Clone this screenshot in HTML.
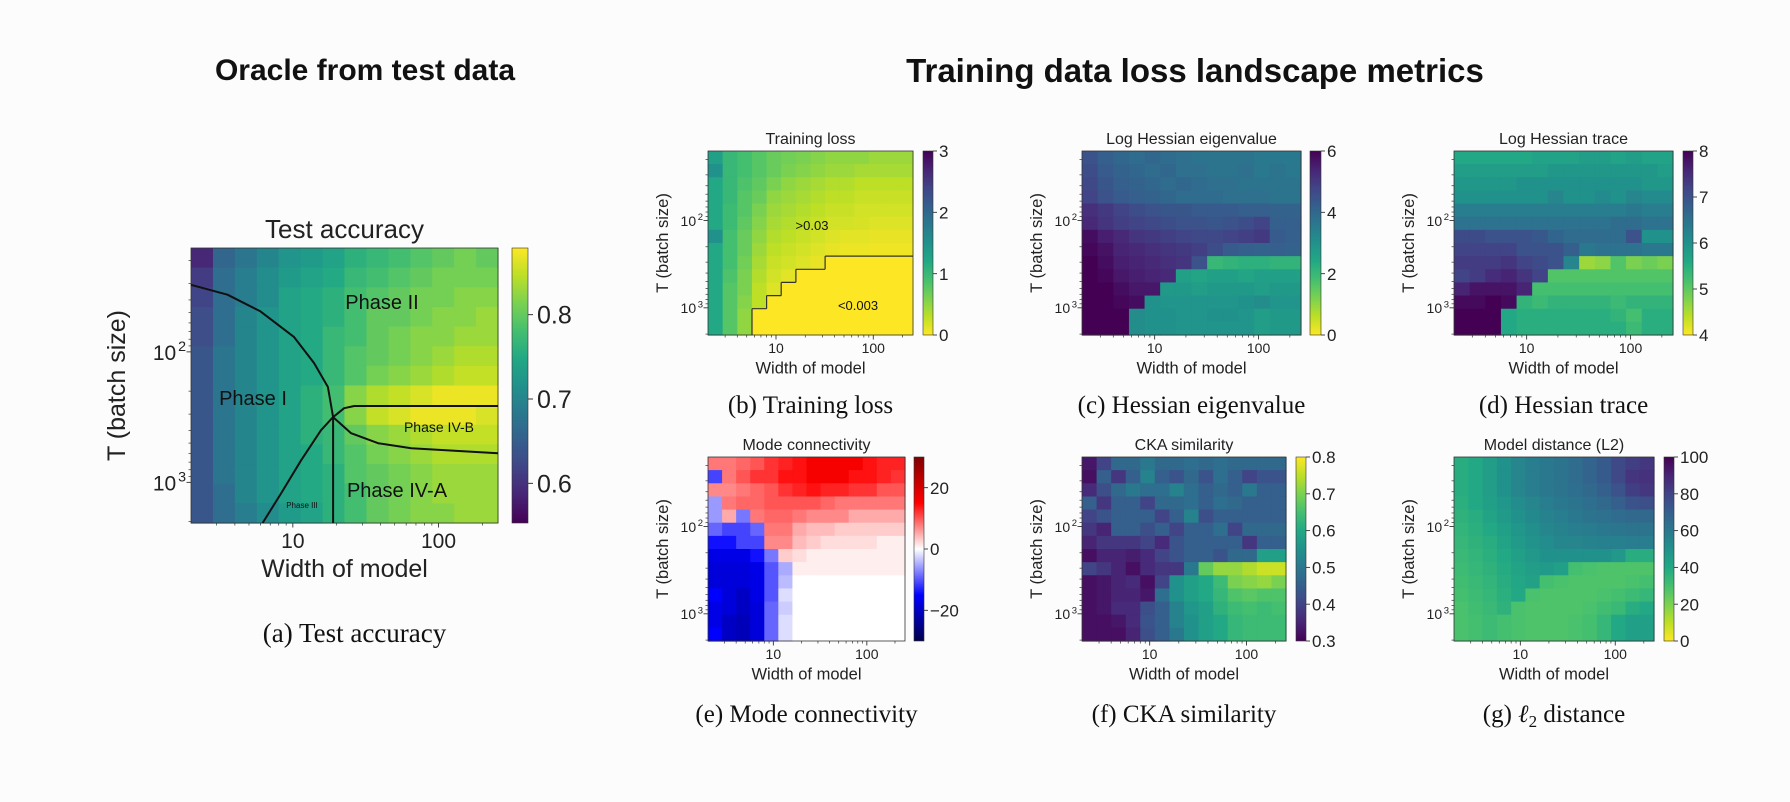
<!DOCTYPE html>
<html><head><meta charset="utf-8"><title>Phase diagram metrics</title>
<style>
html,body{margin:0;padding:0;background:#fcfcfc;}
svg{display:block;font-family:"Liberation Sans",sans-serif;}
.serif{font-family:"Liberation Serif",serif;}
</style></head>
<body>
<svg id="fig" width="1790" height="802" viewBox="0 0 1790 802" xmlns="http://www.w3.org/2000/svg">
<rect x="0" y="0" width="1790" height="802" fill="#fcfcfc"/>
<text x="365" y="80" text-anchor="middle" font-size="30" font-weight="bold" fill="#111">Oracle from test data</text>
<text x="1195" y="82" text-anchor="middle" font-size="33" font-weight="bold" fill="#111">Training data loss landscape metrics</text>
</svg>
<script>
// ---------- shared categories ----------
const widthCats = [2,2.83,4,5.66,8,11.3,16,22.6,32,45.3,64,90.5,128,181];
const batchCats = [16,22.6,32,45.3,64,90.5,128,181,256,362,512,724,1024,1448];
const xTickVals = [10,100];
const xTickLabels = ["10","100"];
const yTickVals = [100,1000];
const yTickExps = ["2","3"];

// ---------- (a) test accuracy (x100) ----------
const accData = [
[59,66,68,70,72,73,74,76,77,78,79,80,81,80],
[61,67,69,71,73,74,75,77,78,79,80,81,81,81],
[62,67,69,71,74,75,76,78,79,80,81,81,82,82],
[63,67,70,72,74,75,76,78,80,80,81,82,82,83],
[63,67,70,72,74,75,77,78,80,81,82,82,83,83],
[64,68,70,72,74,75,77,79,80,81,82,83,84,84],
[64,68,70,72,74,75,77,79,81,82,83,84,85,85],
[64,68,70,72,74,76,78,82,84,85,86,87,87,87],
[64,68,70,72,74,76,78,82,85,86,87,87,87,86],
[64,68,70,72,74,76,77,80,82,83,84,85,85,85],
[64,68,70,72,74,75,77,79,81,82,83,84,84,84],
[64,68,70,72,74,75,76,79,80,81,82,83,83,83],
[64,67,70,72,74,75,76,78,80,81,82,83,83,83],
[64,67,69,71,73,74,76,78,80,81,82,82,83,83]];
const accTicks = [0.6,0.7,0.8];
const phaseCurve1W = [2.0,3.56,6.0,10.2,14.0,17.4,18.9];
const phaseCurve1T = [30.6,36.5,49,77,122,186,316];
const phaseVertW = [18.9,18.9];
const phaseVertT = [316,2048];
const phaseCurve3W = [6.2,8.3,11.4,15.6,18.9,22.5,26.4,256];
const phaseCurve3T = [2048,1216,677,398,316,270,260,260];
const phaseCurve4W = [18.9,25.1,38.5,65,256];
const phaseCurve4T = [316,420,501,547,598];

// ---------- (b) training loss ----------
const lossData = [
[1.3,1.0,0.9,0.8,0.7,0.65,0.6,0.55,0.5,0.5,0.5,0.45,0.45,0.45],
[1.5,1.0,0.9,0.8,0.7,0.6,0.55,0.5,0.45,0.45,0.4,0.4,0.4,0.4],
[1.2,1.0,0.85,0.75,0.6,0.5,0.45,0.4,0.35,0.35,0.3,0.3,0.3,0.3],
[1.2,1.0,0.8,0.7,0.5,0.45,0.4,0.35,0.3,0.3,0.25,0.25,0.25,0.25],
[1.2,0.95,0.8,0.6,0.45,0.4,0.35,0.3,0.25,0.25,0.2,0.2,0.2,0.2],
[1.2,0.95,0.75,0.55,0.4,0.35,0.3,0.25,0.2,0.2,0.18,0.15,0.15,0.15],
[1.5,0.9,0.7,0.5,0.35,0.3,0.25,0.2,0.15,0.12,0.12,0.1,0.1,0.1],
[1.2,0.9,0.7,0.45,0.3,0.25,0.2,0.15,0.1,0.08,0.08,0.06,0.06,0.06],
[1.2,0.9,0.65,0.4,0.25,0.2,0.15,0.1,0.001,0.001,0.001,0.001,0.001,0.001],
[1.2,0.85,0.6,0.35,0.2,0.12,0.001,0.001,0.001,0.001,0.001,0.001,0.001,0.001],
[1.2,0.8,0.6,0.3,0.15,0.001,0.001,0.001,0.001,0.001,0.001,0.001,0.001,0.001],
[1.2,0.8,0.55,0.3,0.001,0.001,0.001,0.001,0.001,0.001,0.001,0.001,0.001,0.001],
[1.2,0.8,0.5,0.001,0.001,0.001,0.001,0.001,0.001,0.001,0.001,0.001,0.001,0.001],
[1.2,0.8,0.5,0.001,0.001,0.001,0.001,0.001,0.001,0.001,0.001,0.001,0.001,0.001]];
const lossTicks = [0,1,2,3];
const lossThreshold = 0.003;

// ---------- (c) log Hessian eigenvalue ----------
const eigData = [
[4.5,4.2,4.0,3.9,4.0,3.9,3.8,3.7,3.7,3.7,3.7,3.6,3.6,3.6],
[4.6,4.3,4.1,4.0,3.9,4.0,3.8,3.8,3.7,3.7,3.8,3.6,3.7,3.6],
[4.7,4.4,4.2,4.1,4.0,3.9,4.0,3.9,3.8,3.8,3.7,3.7,3.7,3.7],
[4.8,4.5,4.3,4.2,4.1,4.0,3.9,3.9,3.9,3.8,3.8,3.8,3.7,3.7],
[5.2,5.0,4.8,4.6,4.5,4.4,4.4,4.3,4.3,4.3,4.2,4.2,4.1,4.1],
[5.3,5.1,4.9,4.8,4.7,4.6,4.5,4.5,4.4,4.5,4.6,4.8,4.2,4.2],
[5.8,5.5,5.3,5.1,5.0,4.9,4.8,4.7,4.7,4.8,4.9,5.0,4.3,4.2],
[5.9,5.7,5.4,5.3,5.2,5.1,5.0,4.9,4.6,4.3,4.2,4.1,4.2,4.1],
[6.0,5.8,5.5,5.4,5.3,5.2,5.1,4.5,2.0,2.1,2.2,2.2,2.1,2.1],
[6.0,5.9,5.6,5.5,5.4,5.3,2.6,2.5,2.6,2.6,2.5,2.6,2.6,2.6],
[6.0,6.0,5.8,5.6,5.6,2.8,2.8,2.7,2.8,2.8,2.8,2.7,2.8,2.8],
[6.0,6.0,5.9,5.8,3.0,2.9,2.9,2.9,2.9,2.9,3.0,3.1,2.9,2.9],
[6.0,6.0,6.0,3.1,3.0,3.0,2.9,2.9,3.0,3.0,2.9,2.7,2.8,2.8],
[6.0,6.0,6.0,3.1,3.0,3.0,2.9,2.9,2.9,2.9,2.9,2.7,2.8,2.8]];
const eigTicks = [0,2,4,6];

// ---------- (d) log Hessian trace ----------
const traceData = [
[5.6,5.6,5.6,5.6,5.6,5.7,5.7,5.7,5.8,5.8,5.7,5.8,5.7,5.7],
[5.8,5.8,5.8,5.8,5.8,5.8,5.9,5.9,5.9,5.9,5.9,5.9,5.9,5.8],
[5.9,5.9,5.9,5.9,6.0,6.0,6.0,6.0,6.0,6.0,6.0,6.0,5.9,5.9],
[6.0,6.0,6.0,6.0,6.0,6.0,6.2,6.0,6.0,6.1,6.0,6.2,6.1,6.1],
[6.3,6.3,6.3,6.3,6.3,6.3,6.3,6.3,6.3,6.3,6.3,6.4,6.3,6.3],
[6.5,6.5,6.5,6.5,6.5,6.5,6.5,6.5,6.5,6.5,6.6,6.6,6.5,6.5],
[7.1,7.1,7.0,7.0,7.0,6.9,6.7,6.6,6.6,6.6,6.6,7.0,6.0,6.0],
[7.2,7.2,7.2,7.2,7.0,7.0,7.0,6.8,6.4,6.5,6.5,6.5,6.4,6.4],
[7.3,7.3,7.3,7.4,7.2,7.1,7.0,6.2,4.6,4.7,5.1,4.8,4.9,4.8],
[7.2,7.3,7.5,7.6,7.4,7.2,5.1,5.1,5.1,5.1,5.1,5.1,5.1,5.1],
[7.6,7.8,7.8,7.8,7.6,5.2,5.2,5.2,5.2,5.2,5.2,5.2,5.2,5.2],
[7.9,7.9,8.0,7.9,5.4,5.3,5.4,5.4,5.4,5.4,5.3,5.4,5.4,5.4],
[8.0,8.0,8.0,5.6,5.5,5.5,5.5,5.5,5.5,5.5,5.4,5.2,5.5,5.5],
[8.0,8.0,8.0,5.6,5.5,5.5,5.5,5.5,5.5,5.5,5.5,5.3,5.5,5.5]];
const traceTicks = [4,5,6,7,8];

// ---------- (e) mode connectivity ----------
const modeData = [
[8,8,9,10,12,13,14,16,16,16,16,14,13,13],
[-11,8,10,12,12,14,14,16,16,16,14,14,13,12],
[7,7,8,9,10,12,13,14,13,13,12,12,10,10],
[-6,8,9,9,10,10,10,10,9,8,8,8,8,8],
[-6,5,-8,8,9,9,8,7,7,7,5,5,5,5],
[-9,-11,-11,-9,8,8,5,4,4,3,3,3,3,3],
[-14,-14,-11,-11,7,7,4,3,2,2,2,2,1,1],
[-17,-17,-17,-14,-8,3,2,1,1,1,1,1,1,1],
[-18,-18,-18,-17,-10,-5,1,1,1,1,1,1,1,1],
[-18,-18,-18,-17,-10,-4,0,0,0,0,0,0,0,0],
[-15,-18,-20,-17,-10,-2,0,0,0,0,0,0,0,0],
[-17,-18,-20,-18,-9,-3,0,0,0,0,0,0,0,0],
[-17,-20,-21,-18,-9,-2,0,0,0,0,0,0,0,0],
[-15,-20,-21,-18,-9,-2,0,0,0,0,0,0,0,0]];
const modeTicks = [-20,0,20];

// ---------- (f) CKA similarity ----------
const ckaData = [
[0.33,0.40,0.47,0.47,0.50,0.47,0.47,0.48,0.47,0.48,0.47,0.47,0.47,0.47],
[0.32,0.45,0.38,0.45,0.52,0.45,0.43,0.47,0.43,0.48,0.45,0.40,0.43,0.43],
[0.36,0.42,0.47,0.50,0.48,0.48,0.52,0.48,0.45,0.47,0.45,0.50,0.45,0.45],
[0.45,0.38,0.45,0.45,0.40,0.47,0.47,0.48,0.45,0.48,0.47,0.45,0.45,0.45],
[0.40,0.43,0.45,0.45,0.45,0.40,0.45,0.52,0.42,0.45,0.45,0.45,0.45,0.45],
[0.38,0.35,0.45,0.45,0.42,0.45,0.40,0.45,0.45,0.48,0.40,0.47,0.47,0.47],
[0.35,0.38,0.38,0.38,0.40,0.36,0.43,0.45,0.45,0.45,0.45,0.38,0.45,0.45],
[0.32,0.35,0.35,0.34,0.36,0.40,0.43,0.45,0.45,0.43,0.47,0.47,0.58,0.58],
[0.40,0.38,0.35,0.32,0.36,0.38,0.38,0.50,0.68,0.72,0.72,0.74,0.76,0.76],
[0.32,0.33,0.35,0.36,0.32,0.40,0.55,0.58,0.60,0.64,0.70,0.71,0.72,0.70],
[0.32,0.33,0.35,0.35,0.33,0.48,0.55,0.58,0.60,0.63,0.66,0.67,0.66,0.66],
[0.32,0.33,0.36,0.36,0.42,0.45,0.52,0.56,0.58,0.62,0.64,0.65,0.64,0.65],
[0.32,0.32,0.33,0.36,0.43,0.45,0.52,0.55,0.58,0.60,0.63,0.64,0.64,0.64],
[0.32,0.32,0.32,0.35,0.42,0.45,0.50,0.55,0.58,0.60,0.63,0.64,0.64,0.64]];
const ckaTicks = [0.3,0.4,0.5,0.6,0.7,0.8];

// ---------- (g) model distance ----------
const distData = [
[38,40,45,50,55,58,60,62,65,68,72,78,82,84],
[38,40,45,50,55,58,60,62,65,68,72,78,85,86],
[38,40,45,50,55,58,60,62,64,66,70,75,82,84],
[37,40,44,48,52,55,58,60,62,64,66,70,74,76],
[36,38,42,46,50,53,56,58,60,62,63,65,66,66],
[35,37,40,44,48,51,54,56,58,59,60,61,62,62],
[34,36,38,42,46,49,52,54,55,56,57,57,58,58],
[33,35,37,40,44,47,50,50,50,50,50,47,38,38],
[32,34,36,39,42,45,46,44,30,29,28,28,28,28],
[31,33,35,38,41,43,30,29,28,28,28,28,29,30],
[30,32,34,37,40,29,28,28,28,28,29,30,32,34],
[29,31,33,36,29,28,28,28,28,29,31,33,38,40],
[29,30,32,30,29,28,28,28,29,30,34,40,44,44],
[29,30,32,30,29,28,28,28,29,30,34,40,44,44]];
const distTicks = [0,20,40,60,80,100];

// ---------- colormaps ----------
const VIR = ["#440154","#482475","#414487","#355f8d","#2a788e","#21918c","#22a884","#44bf70","#7ad151","#bddf26","#fde725"];
function hex(h){return [parseInt(h.substr(1,2),16),parseInt(h.substr(3,2),16),parseInt(h.substr(5,2),16)];}
function lerpStops(stops,t){
  t=Math.max(0,Math.min(1,t));
  const n=stops.length-1, f=t*n, i=Math.min(n-1,Math.floor(f)), u=f-i;
  const a=stops[i], b=stops[i+1];
  return "rgb("+Math.round(a[0]+(b[0]-a[0])*u)+","+Math.round(a[1]+(b[1]-a[1])*u)+","+Math.round(a[2]+(b[2]-a[2])*u)+")";
}
const VIRS = VIR.map(hex);
const SEIS = [[0,0,77],[0,0,255],[255,255,255],[255,0,0],[128,0,0]];
function viridis(t){return lerpStops(VIRS,t);}
function viridisR(t){return lerpStops(VIRS,1-t);}
function seismic(t){return lerpStops(SEIS,t);}

const NS="http://www.w3.org/2000/svg";
const svg=document.getElementById("fig");
function mk(tag,attrs,parent){
  const el=document.createElementNS(NS,tag);
  for(const k in attrs) el.setAttribute(k,attrs[k]);
  (parent||svg).appendChild(el);
  return el;
}
const defs=mk("defs",{});
let gradId=0;
const L2=Math.log10;
const XMIN=2, XMAX=256, YMIN=16, YMAX=2048;

function drawPanel(p){
  const g=mk("g",{});
  
  
  const xs=w=>p.x+(L2(w)-L2(XMIN))/(L2(XMAX)-L2(XMIN))*p.w;
  const ys=t=>p.y+(L2(t)-L2(YMIN))/(L2(YMAX)-L2(YMIN))*p.h;
  const col=v=>p.cmap((v-p.vmin)/(p.vmax-p.vmin));
  for(let r=0;r<batchCats.length;r++){
    for(let c=0;c<widthCats.length;c++){
      const x0=xs(widthCats[c]), x1=xs(widthCats[c]*Math.SQRT2);
      const y0=ys(batchCats[r]), y1=ys(batchCats[r]*Math.SQRT2);
      const cell=mk("rect",{x:x0.toFixed(2),y:y0.toFixed(2),width:(x1-x0+0.6).toFixed(2),height:(y1-y0+0.6).toFixed(2),fill:col(p.data[r][c])},g);
      
      
    }
  }
  const frame=mk("rect",{x:p.x,y:p.y,width:p.w,height:p.h,fill:"none",stroke:"#333","stroke-width":0.8},g);
  
  
  for(let d=1;d<=100;d*=10){
    for(let m=2;m<=9;m++){
      const v=m*d;
      if(v>XMIN&&v<XMAX){const X=xs(v);mk("line",{x1:X,y1:p.y+p.h,x2:X,y2:p.y+p.h+2.5,stroke:"#333","stroke-width":0.7},g);}
    }
  }
  for(let d=10;d<=1000;d*=10){
    for(let m=2;m<=9;m++){
      const v=m*d;
      if(v>YMIN&&v<YMAX){const Y=ys(v);mk("line",{x1:p.x,y1:Y,x2:p.x-2.5,y2:Y,stroke:"#333","stroke-width":0.7},g);}
    }
  }
  xTickVals.forEach((v,i)=>{
    const X=xs(v);
    mk("line",{x1:X,y1:p.y+p.h,x2:X,y2:p.y+p.h+4.5,stroke:"#333","stroke-width":0.9},g);
    const t=mk("text",{x:X,y:p.y+p.h+p.tickFs+4,"text-anchor":"middle","font-size":p.tickFs,fill:"#222"},g);
    
    
    t.textContent=xTickLabels[i];
  });
  yTickVals.forEach((v,i)=>{
    const Y=ys(v);
    mk("line",{x1:p.x,y1:Y,x2:p.x-4.5,y2:Y,stroke:"#333","stroke-width":0.9},g);
    const t=mk("text",{x:p.x-6-p.tickFs*0.42,y:Y+p.tickFs*0.38,"text-anchor":"end","font-size":p.tickFs,fill:"#222"},g);
    
    
    t.textContent="10";
    const s=mk("tspan",{x:p.x-5,dy:-p.tickFs*0.42,"font-size":p.tickFs*0.68,"text-anchor":"end"},t);
    s.textContent=yTickExps[i];
  });
  const xl=mk("text",{x:p.x+p.w/2,y:p.y+p.h+p.tickFs+8+p.labFs,"text-anchor":"middle","font-size":p.labFs,fill:"#222"},g);
  
  
  xl.textContent="Width of model";
  const yc=p.y+p.h/2, yx=p.x-p.ylabOff;
  const yl=mk("text",{x:yx,y:yc,"text-anchor":"middle","font-size":p.labFs,fill:"#222",transform:"rotate(-90 "+yx+" "+yc+")"},g);
  
  
  yl.textContent="T (batch size)";
  const ti=mk("text",{x:p.x+p.w/2,y:p.y-p.titleGap,"text-anchor":"middle","font-size":p.titleFs,fill:"#222"},g);
  
  
  ti.textContent=p.title;
  const cap=mk("text",{x:p.x+p.w/2+p.capDx,y:p.capY,"text-anchor":"middle","font-size":p.capFs,fill:"#111","class":"serif"},g);
  
  
  cap.innerHTML=p.caption;
  const id="cb"+(gradId++);
  const lg=mk("linearGradient",{id:id,x1:0,y1:1,x2:0,y2:0},defs);
  for(let k=0;k<=40;k++){mk("stop",{offset:(k/40).toFixed(3),"stop-color":p.cmap(k/40)},lg);}
  const cb=mk("rect",{x:p.cbX,y:p.y,width:p.cbW,height:p.h,fill:"url(#"+id+")",stroke:"#333","stroke-width":0.6},g);
  
  
  p.ticks.forEach(v=>{
    const Y=p.y+p.h-(v-p.vmin)/(p.vmax-p.vmin)*p.h;
    mk("line",{x1:p.cbX+p.cbW,y1:Y,x2:p.cbX+p.cbW+4,y2:Y,stroke:"#333","stroke-width":0.9},g);
    const t=mk("text",{x:p.cbX+p.cbW+6,y:Y+p.cbFs*0.36,"font-size":p.cbFs,fill:"#222"},g);
    
    
    t.textContent=(v<0?"\u2212":"")+String(Math.abs(v));
  });
  p.xs=xs; p.ys=ys; p.g=g;
  return p;
}

const small={tickFs:14,labFs:16.5,titleFs:16,titleGap:7,capFs:25,cbFs:17,ylabOff:40,capDx:0};
const rowA={y:151,h:184,capY:413};
const rowB={y:457,h:184,capY:722};

const pa=drawPanel({name:"test-accuracy",x:191,y:248,w:307,h:275,data:accData,cmap:viridis,vmin:55.3,vmax:87.9,ticks:[],
  cbX:512,cbW:16,tickFs:21,labFs:25,titleFs:26,titleGap:10,capFs:27,cbFs:25,ylabOff:66,capY:642,capDx:10,
  title:"Test accuracy",caption:"(a) Test accuracy"});
accTicks.forEach(v=>{
  const Y=pa.y+pa.h-(v*100-pa.vmin)/(pa.vmax-pa.vmin)*pa.h;
  mk("line",{x1:528,y1:Y,x2:533,y2:Y,stroke:"#333","stroke-width":1},pa.g);
  const t=mk("text",{x:537,y:Y+9,"font-size":25,fill:"#222"},pa.g);
  
  
  t.textContent=v.toFixed(1);
});
function polyline(panel,W,T,name){
  let d="";
  for(let i=0;i<W.length;i++){d+=(i?"L":"M")+panel.xs(W[i]).toFixed(1)+","+panel.ys(T[i]).toFixed(1);}
  const el=mk("path",{d:d,fill:"none",stroke:"#111","stroke-width":2,"stroke-linejoin":"round"},panel.g);
  
  
}
polyline(pa,phaseCurve1W,phaseCurve1T,"phase-boundary-i-ii");
polyline(pa,phaseVertW,phaseVertT,"phase-boundary-iii-iv");
polyline(pa,phaseCurve3W,phaseCurve3T,"phase-boundary-i-iii");
polyline(pa,phaseCurve4W,phaseCurve4T,"phase-boundary-iva-ivb");
function lbl(x,y,s,fs,name,parent){
  const t=mk("text",{x:x,y:y,"text-anchor":"middle","font-size":fs,fill:"#111"},parent);
  
  
  t.textContent=s;
}
lbl(382,309,"Phase II",20,"phase-ii-label",pa.g);
lbl(253,405,"Phase I",20,"phase-i-label",pa.g);
lbl(439,432,"Phase IV-B",14,"phase-ivb-label",pa.g);
lbl(397,497,"Phase IV-A",20,"phase-iva-label",pa.g);
lbl(302,508,"Phase III",8,"phase-iii-label",pa.g);

const pb=drawPanel(Object.assign({},small,rowA,{name:"training-loss",x:708,w:205,data:lossData,cmap:viridisR,vmin:0,vmax:3,ticks:lossTicks,cbX:923,cbW:10,title:"Training loss",caption:"(b) Training loss"}));
(function(){
  let d="";
  const R=batchCats.length,C=widthCats.length;
  const low=(r,c)=>lossData[r][c]<lossThreshold;
  for(let r=0;r<R;r++)for(let c=0;c<C;c++){
    if(c<C-1&&low(r,c)!==low(r,c+1)){const X=pb.xs(widthCats[c+1]);d+="M"+X.toFixed(1)+","+pb.ys(batchCats[r]).toFixed(1)+"L"+X.toFixed(1)+","+pb.ys(batchCats[r]*Math.SQRT2).toFixed(1);}
    if(r<R-1&&low(r,c)!==low(r+1,c)){const Y=pb.ys(batchCats[r+1]);d+="M"+pb.xs(widthCats[c]).toFixed(1)+","+Y.toFixed(1)+"L"+pb.xs(widthCats[c]*Math.SQRT2).toFixed(1)+","+Y.toFixed(1);}
  }
  const el=mk("path",{d:d,fill:"none",stroke:"#333","stroke-width":1.2},pb.g);
  
  
})();
lbl(812,230,">0.03",13,"loss-high-label",pb.g);
lbl(858,310,"<0.003",13,"loss-low-label",pb.g);

drawPanel(Object.assign({},small,rowA,{name:"hessian-eigenvalue",x:1082,w:219,data:eigData,cmap:viridisR,vmin:0,vmax:6,ticks:eigTicks,cbX:1310,cbW:11,title:"Log Hessian eigenvalue",caption:"(c) Hessian eigenvalue"}));
drawPanel(Object.assign({},small,rowA,{name:"hessian-trace",x:1454,w:219,data:traceData,cmap:viridisR,vmin:4,vmax:8,ticks:traceTicks,cbX:1683,cbW:10,title:"Log Hessian trace",caption:"(d) Hessian trace"}));
drawPanel(Object.assign({},small,rowB,{name:"mode-connectivity",x:708,w:197,data:modeData,cmap:seismic,vmin:-30,vmax:30,ticks:modeTicks,cbX:914,cbW:10,title:"Mode connectivity",caption:"(e) Mode connectivity"}));
drawPanel(Object.assign({},small,rowB,{name:"cka-similarity",x:1082,w:204,data:ckaData,cmap:viridis,vmin:0.3,vmax:0.8,ticks:ckaTicks,cbX:1296,cbW:10,title:"CKA similarity",caption:"(f) CKA similarity"}));
drawPanel(Object.assign({},small,rowB,{name:"model-distance",x:1454,w:200,data:distData,cmap:viridisR,vmin:0,vmax:100,ticks:distTicks,cbX:1664,cbW:10,title:"Model distance (L2)",caption:"(g) <tspan font-style=\"italic\">\u2113</tspan><tspan font-size=\"17\" dy=\"5\">2</tspan><tspan dy=\"-5\"> distance</tspan>"}));
</script>
</body></html>
